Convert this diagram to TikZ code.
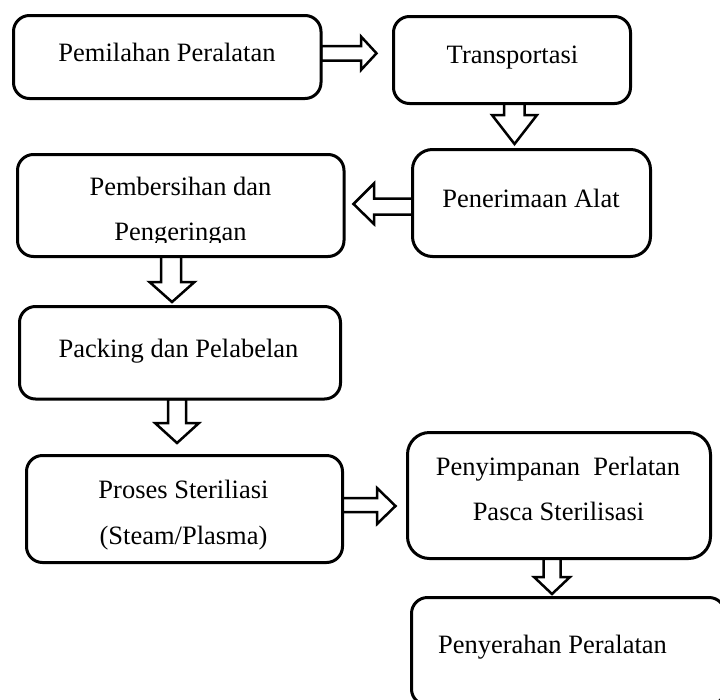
\documentclass[tikz,border=0pt]{standalone}
\usepackage{fontspec}
\setmainfont{Liberation Serif}
\pgfdeclarelayer{arrows}
\pgfsetlayers{arrows,main}
\begin{document}
\begin{tikzpicture}[x=1pt,y=-1pt,
  box/.style={rectangle, draw, line width=3pt, fill=white, rounded corners=16pt, inner sep=0pt, outer sep=0pt},
  barrow/.style={draw, line width=2.5pt, fill=white, line join=miter},
  lbl/.style={anchor=base, inner sep=0pt, font=\fontsize{26.5}{30}\selectfont}]
\useasboundingbox (0,0) rectangle (720,699);
% boxes
\node[box, minimum width=307.5pt, minimum height=83pt]  (b1) at (167.25,57) {};
\node[box, minimum width=237pt,   minimum height=87pt]  (b2) at (512,60) {};
\node[box, minimum width=238pt,   minimum height=107pt, rounded corners=20pt] (b3) at (531.5,203) {};
\node[box, minimum width=326.5pt, minimum height=102pt] (b4) at (180.75,205.5) {};
\node[box, minimum width=321pt,   minimum height=92.5pt] (b5) at (180,352.75) {};
\node[box, minimum width=316pt,   minimum height=107pt] (b6) at (184.5,509) {};
\node[box, minimum width=303pt,   minimum height=126pt, rounded corners=22pt] (b7) at (559,495.5) {};
\node[box, minimum width=313.5pt, minimum height=107.5pt] (b8) at (568.25,651.25) {};
% texts
\node[lbl] (t1)  at (167,61)    {Pemilahan Peralatan};
\node[lbl] (t2)  at (512.5,63)  {Transportasi};
\node[lbl] (t3)  at (531,207)   {Penerimaan Alat};
\node[lbl] (t4a) at (180.5,195) {Pembersihan dan};
\begin{scope}
  \clip (16,150) rectangle (345,242.5);
  \node[lbl] (t4b) at (180.5,240.5) {Pengeringan};
\end{scope}
\node[lbl] (t5)  at (178.5,357) {Packing dan Pelabelan};
\node[lbl] (t6a) at (183.5,498) {Proses Steriliasi};
\node[lbl] (t6b) at (183.5,544) {(Steam/Plasma)};
\node[lbl] (t7a) at (558,475)   {Penyimpanan\ \ Perlatan};
\node[lbl] (t7b) at (558.5,520) {Pasca Sterilisasi};
\node[lbl] (t8)  at (552.5,653) {Penyerahan Peralatan};
% block arrows
\begin{pgfonlayer}{arrows}
\fill[white] (0,0) rectangle (720,699);
\draw[barrow] (b1.east |- 0,46) -- (361,46) -- (361,36.5) -- (376.5,53.3) -- (361,70) -- (361,60.5) -- (b1.east |- 0,60.5) -- cycle;
\draw[barrow] (504,0 |- b2.south) -- (504,115) -- (492,115) -- (514.5,144) -- (537,115) -- (524.5,115) -- (524.5,0 |- b2.south) -- cycle;
\draw[barrow] (b3.west |- 0,198.5) -- (374,198.5) -- (374,183.5) -- (353.5,204) -- (374,224) -- (374,214.5) -- (b3.west |- 0,214.5) -- cycle;
\draw[barrow] (161,0 |- b4.south) -- (161,282) -- (149.5,282) -- (172,302) -- (194.5,282) -- (181,282) -- (181,0 |- b4.south) -- cycle;
\draw[barrow] (168,0 |- b5.south) -- (168,423) -- (155,423) -- (177,443) -- (199,423) -- (186,423) -- (186,0 |- b5.south) -- cycle;
\draw[barrow] (b6.east |- 0,498) -- (377,498) -- (377,488) -- (395.5,506) -- (377,524) -- (377,512) -- (b6.east |- 0,512) -- cycle;
\draw[barrow] (543.5,0 |- b7.south) -- (543.5,577) -- (534,577) -- (552,594) -- (570,577) -- (560.5,577) -- (560.5,0 |- b7.south) -- cycle;
\end{pgfonlayer}
\end{tikzpicture}
\end{document}
